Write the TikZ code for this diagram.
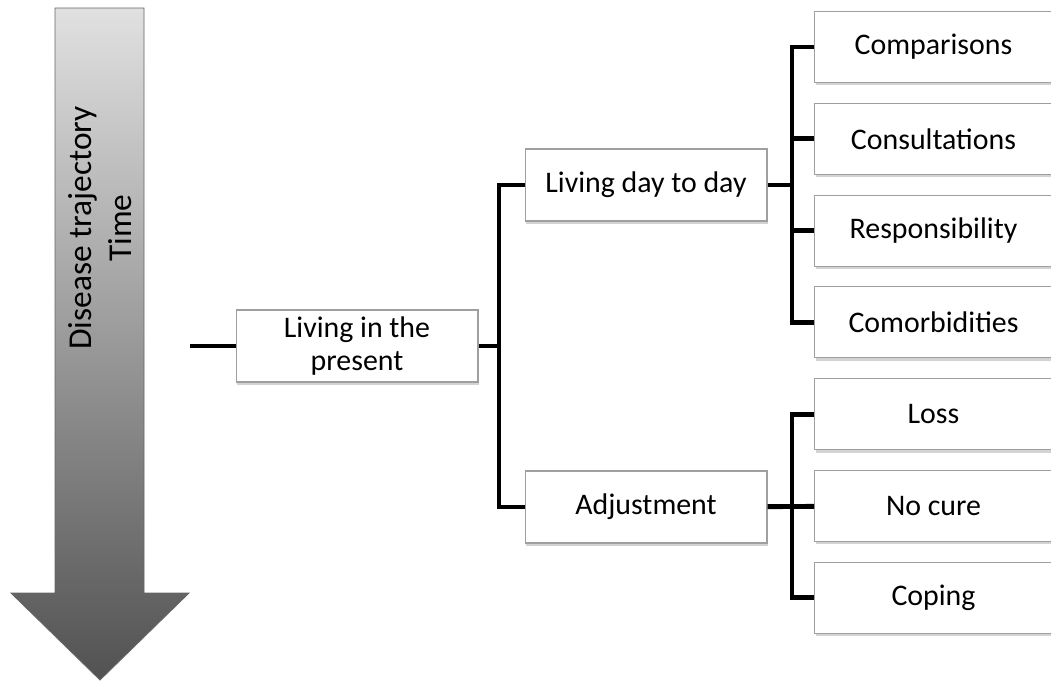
\documentclass[tikz,border=0pt]{standalone}
\usepackage{fontspec}
\setmainfont{Carlito}
\usetikzlibrary{shadows}
\begin{document}
\begin{tikzpicture}[
		x=0.02cm,y=-0.02cm,
		line join=miter,
		box/.style={draw=gray!75,fill=white,line width=0.6pt,
			drop shadow={shadow xshift=0.8pt,shadow yshift=-1.6pt,opacity=0.35},
			minimum height=1.44cm,inner sep=2pt,align=center,
			font=\fontsize{17}{19}\selectfont},
		midbox/.style={box,minimum width=4.84cm},
		leaf/.style={box,minimum width=4.76cm,minimum height=1.42cm},
		link/.style={line width=2.8pt}
		]
		\clip (0,0) rectangle (1051,681);
		% time arrow
		\shade[draw=gray!80!black,line width=0.5pt,top color=black!12,bottom color=black!68]
			(55,8) -- (144,8) -- (144,593) -- (189,593) -- (100,680) -- (11,593) -- (55,593) -- cycle;
		\node[rotate=90,align=center,font=\fontsize{19}{22.5}\selectfont] (time) at (100,228) {Disease trajectory\\Time};
		% boxes
		\node[midbox] (present) at (357,346) {Living in the\\present};
		\node[midbox] (daily) at (646,185) {Living day to day};
		\node[midbox] (adjust) at (646,507) {Adjustment};
		\foreach \name/\txt [count=\i from 0] in {comp/Comparisons,consult/Consultations,resp/Responsibility,comorb/Comorbidities,loss/Loss,nocure/No cure,coping/Coping}
			\node[leaf,anchor=west] (\name) at (814,47+91.8*\i) {\txt};
		% connectors
		\coordinate (start) at (190,346);
		\coordinate (trunkA) at (499,346);
		\coordinate (trunkB) at (792,185);
		\coordinate (trunkC) at (792,507);
		\begin{scope}[link]
		\draw (start) -- (present);
		\draw (present) -- (trunkA);
		\draw (daily.west) -| (trunkA) |- (adjust.west);
		\draw (daily) -- (trunkB);
		\draw (adjust) -- (nocure);
		\foreach \name in {comp,consult,resp,comorb}
			\draw (trunkB) |- (\name.west);
		\foreach \name in {loss,coping}
			\draw (trunkC) |- (\name.west);
		\end{scope}
		\end{tikzpicture}
\end{document}
